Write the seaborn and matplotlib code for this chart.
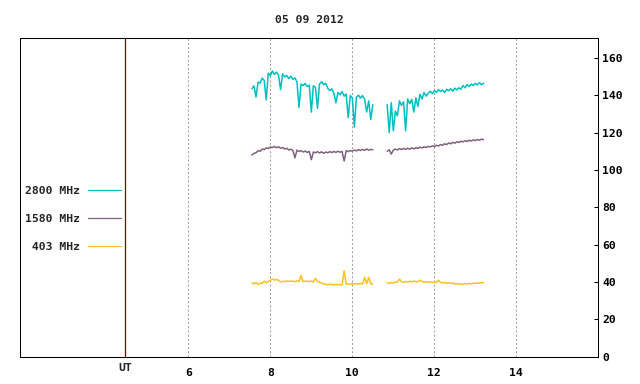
import numpy as np
import pandas as pd
import matplotlib
matplotlib.use("Agg")
import matplotlib.pyplot as plt
import seaborn as sns

title = "05 09 2012"
bands = ["2800 MHz", "1580 MHz", " 403 MHz"]
colors = ["#00c0c0", "#806080", "#ffc020"]
ut_hour = 4.46
hour_ticks = [6, 8, 10, 12, 14]
value_ticks = [0, 20, 40, 60, 80, 100, 120, 140, 160]

# observing windows (UT hours), two runs with a gap
seg1_start, seg1_end = 7.55, 10.50
seg2_start, seg2_end = 10.85, 13.20

f2800_a = [143.5, 145.0, 139.0, 147.0, 146.5, 149.2, 148.0, 137.5, 151.8, 150.5,
           153.0, 151.2, 152.4, 150.8, 143.0, 151.5, 149.8, 150.6, 148.9, 150.2,
           148.5, 149.3, 147.2, 133.5, 146.0, 145.2, 146.3, 144.6, 145.4, 131.0,
           145.1, 144.2, 133.0, 146.0, 147.2, 145.6, 146.4, 143.8, 142.5, 143.4,
           141.0, 136.0, 141.5, 140.2, 142.0, 139.5, 140.6, 128.0, 139.8, 138.6,
           123.0, 139.0, 140.0, 138.5, 139.8, 137.8, 131.0, 137.0, 127.0, 135.0]
f2800_b = [135.0, 120.0, 136.0, 121.0, 131.5, 129.0, 137.0, 134.5, 136.5, 121.0,
           138.0, 135.5, 137.8, 131.0, 138.5, 134.0, 140.5, 138.0, 141.5, 139.5,
           141.0, 142.2, 140.8, 142.5, 141.6, 143.0, 142.0, 142.8, 141.5, 143.2,
           142.4, 143.5, 142.2, 143.8, 142.9, 144.0, 143.2, 145.2, 144.0, 145.8,
           144.6, 146.0, 145.2, 146.4, 145.5, 146.8, 145.6, 146.5]

f1580_a = [108.0, 108.9, 109.2, 110.3, 110.0, 111.2, 110.9, 111.8, 111.5, 112.3,
           112.0, 112.6, 111.9, 112.4, 111.6, 112.0, 111.2, 111.6, 110.7, 111.1,
           110.4, 106.5, 110.6, 109.9, 110.3, 109.6, 110.1, 109.4, 109.9, 105.5,
           109.6, 109.2, 109.8, 109.1, 109.7, 108.9, 109.6, 109.2, 109.8, 109.3,
           109.9, 109.4, 110.0, 109.5, 109.9, 104.8, 110.3, 109.8, 110.4, 110.0,
           110.7, 110.2, 110.9, 110.4, 111.0, 110.5, 111.2, 110.6, 111.0, 110.8]
f1580_b = [110.0, 110.8, 108.5, 110.6, 111.2, 110.7, 111.4, 110.9, 111.5, 111.0,
           111.6, 111.1, 111.8, 111.3, 111.9, 111.5, 112.2, 111.8, 112.4, 112.0,
           112.6, 112.3, 112.9, 112.5, 113.2, 112.8, 113.6, 113.2, 114.0, 113.6,
           114.4, 114.0, 114.8, 114.3, 115.1, 114.7, 115.4, 115.0, 115.7, 115.2,
           115.9, 115.5, 116.1, 115.7, 116.3, 115.9, 116.5, 116.2]

f403_a = [39.5, 39.0, 39.8, 38.6, 39.4, 39.2, 40.5, 39.6, 40.3, 40.8,
          41.6, 41.0, 41.4, 40.8, 40.0, 40.4, 40.2, 40.6, 40.3, 40.5,
          40.4, 40.2, 40.6, 40.3, 43.5, 40.1, 40.5, 40.4, 40.2, 40.5,
          40.0, 42.0, 40.2, 39.8, 39.5, 38.9, 38.8, 38.5, 38.9, 38.6,
          38.4, 38.8, 38.5, 38.7, 38.4, 46.0, 38.8, 39.0, 38.8, 39.2,
          38.9, 39.1, 38.8, 39.3, 38.9, 42.5, 39.1, 42.5, 38.9, 39.0]
f403_b = [39.6, 39.2, 39.8, 39.4, 39.9, 40.0, 41.5, 40.1, 39.8, 40.3,
          40.0, 40.4, 40.1, 40.5, 40.2, 40.0, 41.0, 40.3, 39.9, 40.2,
          39.8, 40.1, 39.7, 40.0, 39.6, 41.0, 39.8, 39.5, 39.8, 39.3,
          39.6, 39.2, 39.5, 38.9, 39.2, 38.8, 39.0, 38.7, 39.2, 38.9,
          39.3, 39.0, 39.4, 39.1, 39.6, 39.3, 39.7, 39.5]

rows = []
for band, runs in zip(bands, [(f2800_a, f2800_b), (f1580_a, f1580_b), (f403_a, f403_b)]):
    for seg, (vals, t0, t1) in enumerate([(runs[0], seg1_start, seg1_end),
                                          (runs[1], seg2_start, seg2_end)]):
        t = np.linspace(t0, t1, len(vals))
        for ti, v in zip(t, vals):
            rows.append({"ut": ti, "flux": v, "band": band, "seg": seg})
df = pd.DataFrame(rows)

sns.set_style("white")
plt.rcParams["font.family"] = ["DejaVu Sans Mono", "DejaVu Sans"]
plt.rcParams["font.weight"] = "bold"
plt.rcParams["font.size"] = 8.2

fig = plt.figure(figsize=(6.4, 3.84), dpi=100)
ax = fig.add_axes([0.0317, 0.0711, 0.9031, 0.8292])

ax.grid(axis="x", linestyle=(0, (2, 2)), color="#a0a0a0", linewidth=0.75)
ax.axvline(ut_hour, color="#800000", linewidth=0.9)

sns.lineplot(data=df, x="ut", y="flux", hue="band", units="seg", estimator=None,
             hue_order=bands, palette=colors, linewidth=1.1, sort=False, ax=ax)

ax.set_xlim(1.9, 16.0)
ax.set_ylim(0, 170.5)
ax.set_xticks(hour_ticks)
ax.set_xticklabels([str(h) for h in hour_ticks])
ax.set_yticks(value_ticks)
ax.yaxis.tick_right()
ax.tick_params(axis="x", direction="in", length=3, width=0.75, pad=8, colors="black")
ax.tick_params(axis="y", direction="in", length=3, width=0.75, pad=3, colors="black",
               left=False, right=True)
ax.set_xlabel("")
ax.set_ylabel("")
for s in ax.spines.values():
    s.set_color("black")
    s.set_linewidth(0.75)

ax.text(ut_hour, -0.021, "UT", transform=ax.get_xaxis_transform(),
        ha="center", va="top")
ax.set_title(title, pad=10.8, fontsize=8.2, fontweight="bold")

leg = ax.legend(loc="center right", bbox_to_anchor=(0.174, 0.4325), frameon=False,
                markerfirst=False, handlelength=2.85, handletextpad=0.7,
                labelspacing=1.6, borderpad=0, borderaxespad=0)
for line in leg.get_lines():
    line.set_linewidth(0.9)

fig.savefig("out.png", dpi=100)
